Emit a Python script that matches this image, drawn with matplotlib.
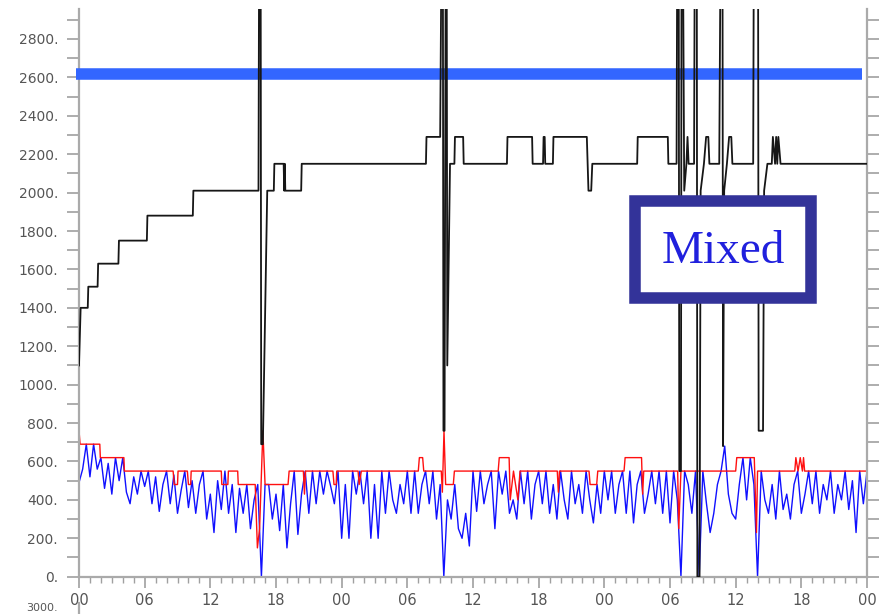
import numpy as np
import matplotlib.pyplot as plt
from matplotlib.patches import Rectangle
from matplotlib.lines import Line2D

# blue series, one value every 20 minutes over 72 hours (9 values = 3 hours per row)
blue_vals = [
    490, 560, 690, 520, 690, 560, 620, 460, 590,
    430, 620, 500, 620, 440, 380, 520, 430, 550,
    470, 550, 380, 520, 340, 480, 550, 380, 530,
    330, 450, 550, 360, 500, 330, 480, 550, 300,
    430, 230, 500, 350, 550, 330, 480, 230, 460,
    330, 480, 250, 400, 480, 0, 480, 480, 300,
    430, 240, 480, 150, 380, 550, 220, 430, 550,
    330, 550, 380, 550, 430, 550, 470, 380, 550,
    200, 480, 200, 550, 430, 550, 380, 550, 200,
    480, 200, 550, 330, 550, 400, 330, 480, 380,
    550, 330, 550, 330, 480, 550, 380, 550, 300,
    480, 0, 400, 300, 480, 250, 200, 330, 160,
    550, 340, 550, 380, 480, 550, 250, 550, 430,
    550, 330, 400, 300, 550, 380, 550, 300, 480,
    550, 380, 550, 330, 480, 300, 550, 400, 300,
    550, 380, 480, 330, 550, 400, 280, 480, 330,
    550, 400, 550, 330, 480, 550, 330, 550, 280,
    480, 550, 330, 430, 550, 380, 550, 330, 550,
    280, 550, 400, 0, 550, 480, 330, 550, 0,
    550, 380, 230, 330, 480, 550, 680, 430, 330,
    300, 480, 620, 400, 620, 480, 0, 550, 400,
    330, 480, 300, 550, 350, 430, 300, 480, 550,
    330, 430, 550, 380, 550, 330, 480, 400, 550,
    330, 480, 400, 550, 350, 500, 230, 550, 380,
    550,
]
blue_t = np.linspace(0, 72, len(blue_vals))

# red envelope: (hour, value) corners
red_t = [0, 0.1, 1.9, 1.95, 4.1, 4.15, 8.6, 8.7, 9.0, 9.05, 9.9, 10.0, 10.2, 10.25,
         13.0, 13.05, 13.6, 13.65, 14.5, 14.55, 16.1, 16.3, 16.5, 16.8, 17.0, 19.1, 19.2,
         20.5, 20.6, 20.7, 23.2, 23.3, 23.5, 23.55, 25.5, 25.6, 25.8, 31.0, 31.1, 31.4,
         31.5, 33.1, 33.2, 33.35, 33.5, 34.2, 34.3, 38.3, 38.4, 39.3, 39.4, 39.7, 40.1,
         40.3, 43.7, 43.8, 43.9, 46.6, 46.7, 47.3, 47.4, 49.8, 49.9, 51.4, 51.5, 51.6,
         54.7, 54.8, 55.0, 60.0, 60.1, 61.7, 61.9, 62.0, 65.4, 65.5, 65.7, 65.9, 66.1,
         66.2, 66.3, 72]
red_v = [760, 690, 690, 620, 620, 550, 550, 480, 480, 550, 550, 480, 480, 550,
         550, 480, 480, 550, 550, 480, 480, 150, 250, 760, 480, 480, 550,
         550, 430, 550, 550, 480, 480, 550, 550, 480, 550, 550, 620, 620,
         550, 550, 440, 760, 480, 480, 550, 550, 620, 620, 400, 550, 400,
         550, 550, 440, 550, 550, 480, 480, 550, 550, 620, 620, 430, 550,
         550, 250, 550, 550, 620, 620, 230, 550, 550, 620, 550, 620, 550,
         620, 550, 550]

# black series: (hour, value) corners, 3100 = off the top
black_t = [0, 0.15, 0.8, 0.85, 1.7, 1.75, 3.6, 3.65, 6.2, 6.25, 10.4, 10.45,
           16.4, 16.45, 16.6, 16.65, 16.8, 17.2, 17.8, 17.85, 18.7, 18.75, 18.8, 18.85,
           20.3, 20.35, 31.7, 31.75, 33.0, 33.1, 33.25, 33.3, 33.4, 33.5, 33.6, 33.65,
           33.9, 34.3, 34.35, 35.1, 35.15, 39.1, 39.15, 41.4, 41.45, 42.4, 42.45, 42.55,
           42.6, 43.3, 43.35, 46.4, 46.55, 46.8, 46.9, 51.0, 51.05, 53.8, 53.85, 54.6,
           54.65, 54.8, 54.85, 55.0, 55.05, 55.2, 55.3, 55.5, 55.6, 55.7, 56.2, 56.25,
           56.45, 56.5, 56.7, 56.8, 57.1, 57.3, 57.5, 57.6, 58.5, 58.6, 58.8, 58.85,
           58.95, 59.2, 59.4, 59.6, 59.7, 61.6, 61.65, 62.05, 62.1, 62.5, 62.6, 62.9,
           63.3, 63.4, 63.6, 63.7, 63.8, 63.9, 64.1, 72]
black_v = [1100, 1400, 1400, 1510, 1510, 1630, 1630, 1750, 1750, 1880, 1880, 2010,
           2010, 3100, 3100, 690, 690, 2010, 2010, 2150, 2150, 2010, 2150, 2010,
           2010, 2150, 2150, 2290, 2290, 3100, 3100, 760, 760, 3100, 3100, 1100,
           2150, 2150, 2290, 2290, 2150, 2150, 2290, 2290, 2150, 2150, 2290, 2290,
           2150, 2150, 2290, 2290, 2010, 2010, 2150, 2150, 2290, 2290, 2150, 2150,
           3100, 3100, 550, 550, 3100, 3100, 2010, 2150, 2290, 2150, 2150, 3100,
           3100, 0, 0, 2010, 2150, 2290, 2290, 2150, 2150, 3100, 3100, 680,
           2010, 2150, 2290, 2290, 2150, 2150, 3100, 3100, 760, 760, 2010, 2150,
           2150, 2290, 2150, 2290, 2150, 2290, 2150, 2150]

limit_level = 2620
y_ticks = np.arange(0, 2801, 200)
x_ticks = np.arange(0, 73, 6)
x_labels = ["00", "06", "12", "18"] * 3 + ["00"]
box_text = "Mixed"

fig = plt.figure(figsize=(8.8, 6.14), dpi=100)
ax = fig.add_axes([79 / 880, (614 - 576.7) / 614, 788 / 880, 567.7 / 614])

ax.plot(blue_t, blue_vals, color="#1010ff", lw=1.0, zorder=2)
ax.plot(red_t, red_v, color="#ff1010", lw=1.0, zorder=2.5)
ax.plot([-0.28, 71.5], [limit_level, limit_level], color="#3366ff", lw=8.3,
        solid_capstyle="butt", clip_on=False, zorder=3.5)
ax.plot(black_t, black_v, color="#161616", lw=1.3, zorder=4)

ax.set_xlim(0, 72)
ax.set_ylim(0, 2956)

ax.set_yticks(y_ticks)
ax.set_yticklabels(["%d." % v for v in y_ticks])
ax.set_yticks(np.arange(0, 2956, 100), minor=True)
ax.set_xticks(x_ticks)
ax.set_xticklabels(x_labels)
ax.set_xticks(np.arange(0, 73, 1), minor=True)

for s in ["left", "right", "bottom"]:
    ax.spines[s].set_color("#aaaaaa")
    ax.spines[s].set_linewidth(1.6)
ax.spines["top"].set_visible(False)

ax.tick_params(axis="y", which="both", direction="out", length=8.6, width=1.2,
               color="#a0a0a0", labelsize=10, labelcolor="#555555", pad=6.5,
               right=True, labelright=False)
ax.tick_params(axis="x", which="major", direction="out", length=8, width=1.2,
               color="#a0a0a0", labelsize=10.5, labelcolor="#555555", pad=4)
ax.tick_params(axis="x", which="minor", direction="out", length=4.5, width=1.0,
               color="#a0a0a0")

# "Mixed" label box
fig.add_artist(Rectangle((635 / 880, (614 - 297.5) / 614), 176 / 880, 96.5 / 614,
                         transform=fig.transFigure, facecolor="white",
                         edgecolor="#333399", lw=8.3, zorder=10))
fig.text(723 / 880, (614 - 263) / 614, box_text, ha="center", va="baseline",
         fontsize=34, family="Liberation Serif", color="#2020dd", zorder=11)

# top of the next panel below
fig.add_artist(Line2D([79 / 880, 79 / 880], [0, 11 / 614], color="#aaaaaa", lw=1.6))
fig.text(58 / 880, 1 / 614, "3000.", ha="right", va="bottom", fontsize=8,
         color="#555555")

fig.savefig("out.png", dpi=100)
